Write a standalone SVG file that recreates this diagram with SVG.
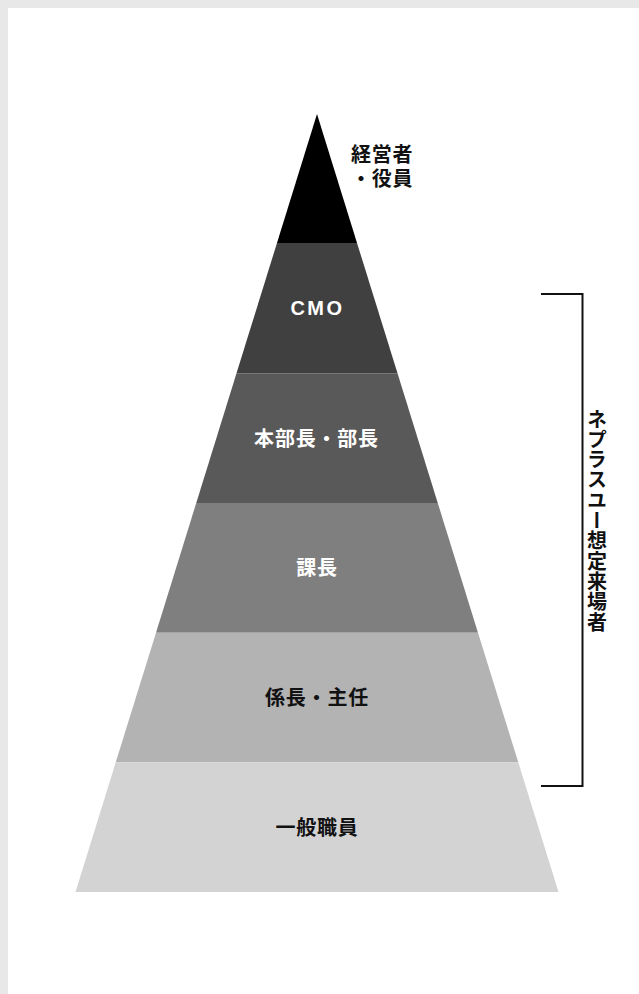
<svg xmlns="http://www.w3.org/2000/svg" width="639" height="994" viewBox="0 0 639 994">
  <style>
    .lbl { font-family: "Noto Sans CJK JP", "Liberation Sans", sans-serif; font-size: 20px; font-weight: bold; letter-spacing: 0.8px; }
    .c { text-anchor: middle; }
    .w { fill: #ffffff; }
    .k { fill: #111111; }
    .br { fill: none; stroke: #111111; stroke-width: 2; }
  </style>
  <rect x="0" y="0" width="639" height="994" fill="#e8e8e8"/>
  <rect x="8" y="8" width="631" height="986" fill="#ffffff"/>

  <g id="tier-executive">
    <polygon points="317,114 357.25,243.67 276.75,243.67" fill="#000000"/>
    <text class="lbl k" x="351" y="161.5"><tspan x="351">経営者</tspan><tspan x="351" dy="24.5">・役員</tspan></text>
  </g>
  <g id="tier-cmo">
    <polygon points="276.75,243.67 357.25,243.67 397.5,373.33 236.5,373.33" fill="#404040"/>
    <text class="lbl c w" x="317.5" y="314.5" style="font-family:'Liberation Sans','Noto Sans CJK JP',sans-serif;letter-spacing:2.5px;">CMO</text>
  </g>
  <g id="tier-director">
    <polygon points="236.5,373.33 397.5,373.33 437.75,503 196.25,503" fill="#595959"/>
    <text class="lbl c w" x="316.5" y="445.5">本部長・部長</text>
  </g>
  <g id="tier-section-chief">
    <polygon points="196.25,503 437.75,503 478,632.67 156,632.67" fill="#7f7f7f"/>
    <text class="lbl c w" x="317" y="575">課長</text>
  </g>
  <g id="tier-supervisor">
    <polygon points="156,632.67 478,632.67 518.25,762.33 115.75,762.33" fill="#b3b3b3"/>
    <text class="lbl c k" x="317" y="705">係長・主任</text>
  </g>
  <g id="tier-staff">
    <polygon points="115.75,762.33 518.25,762.33 558.5,892 75.5,892" fill="#d3d3d3"/>
    <text class="lbl c k" x="317" y="834.5">一般職員</text>
  </g>

  <g id="connectors">
    <polyline class="br" points="541,294 582.5,294 582.5,786 541,786"/>
  </g>
  <g id="bracket-label">
    <text class="lbl k" x="597" y="409" writing-mode="vertical-rl" style="letter-spacing:0.3px;">ネプラスユー想定来場者</text>
  </g>
</svg>
